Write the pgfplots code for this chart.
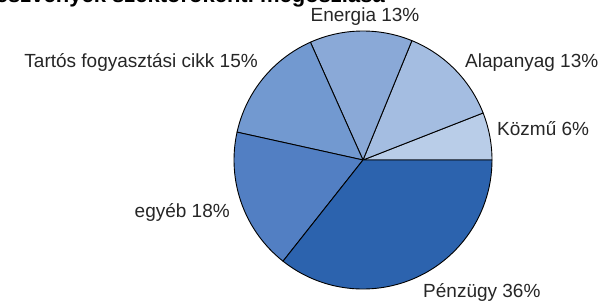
\documentclass[border=0pt]{standalone}
\usepackage{fontspec}
\setmainfont{Liberation Sans}
\usepackage{pgfplots}
\pgfplotsset{compat=1.18}
\definecolor{cKozmu}{HTML}{B9CDE8}
\definecolor{cAlap}{HTML}{A4BDE1}
\definecolor{cEnergia}{HTML}{8AA9D7}
\definecolor{cTartos}{HTML}{7299D0}
\definecolor{cEgyeb}{HTML}{527FC3}
\definecolor{cPenz}{HTML}{2C63AE}
\begin{document}
\begin{tikzpicture}[x=1pt,y=1pt]
\useasboundingbox (0,0) rectangle (602,300);
\clip (0,0) rectangle (602,300);
\begin{axis}[at={(363,140)}, anchor=origin, x=1pt, y=1pt,
  xmin=-130, xmax=130, ymin=-130, ymax=130, hide axis, clip=false]
\gdef\cum{0}
\def\total{101}
\foreach \v/\col in {6/cKozmu,13/cAlap,13/cEnergia,15/cTartos,18/cEgyeb,36/cPenz} {
  \pgfmathsetmacro\start{\cum/\total*360}
  \pgfmathsetmacro\stop{(\cum+\v)/\total*360}
  \edef\temp{\noexpand\filldraw[fill=\col, draw=black, line width=0.9pt, line join=round]
    (axis cs:0,0) -- (axis cs:{129*cos(\start)},{129*sin(\start)})
    arc[start angle=\start, end angle=\stop, radius=129pt] -- cycle;}
  \temp
  \pgfmathsetmacro\newcum{\cum+\v}
  \global\let\cum\newcum
}
\end{axis}
\begin{scope}[every node/.style={font=\fontsize{19}{22}\selectfont, text=black!85, inner sep=0pt}]
\node[anchor=base] at (365,278) {Energia 13\%};
\node[anchor=base west] at (465,232) {Alapanyag 13\%};
\node[anchor=base west] at (497,164) {Közmű 6\%};
\node[anchor=base west] at (423,3) {Pénzügy 36\%};
\node[anchor=base east] at (230,82) {egyéb 18\%};
\node[anchor=base east] at (258,232) {Tartós fogyasztási cikk 15\%};
\end{scope}
\node[anchor=base east, inner sep=0pt, font=\bfseries\fontsize{22}{26}\selectfont] at (385,297) {Részvények szektorokénti megoszlása};
\end{tikzpicture}
\end{document}
